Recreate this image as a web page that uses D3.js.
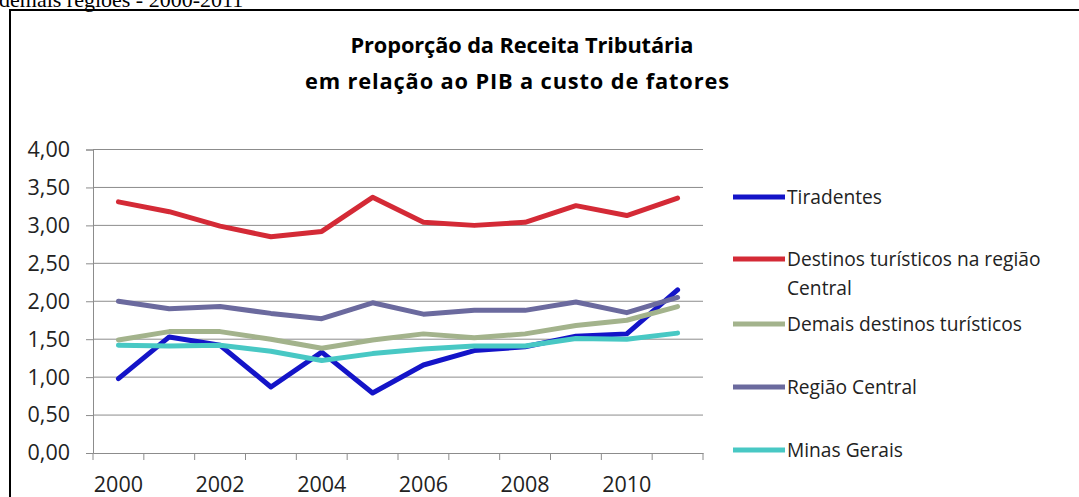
<!DOCTYPE html>
<html lang="pt">
<head>
<meta charset="UTF-8">
<title>Proporção da Receita Tributária</title>
<script src="https://d3js.org/d3.v7.min.js"></script>
<style type="text/css">
  body { margin: 0; background: #fff; }
  svg { display: block; }
</style>
</head>
<body>
<script>
// dados
var anos = [2000, 2001, 2002, 2003, 2004, 2005, 2006, 2007, 2008, 2009, 2010, 2011];
var rotulosAnos = [2000, 2002, 2004, 2006, 2008, 2010];
var ticksY = [0, 0.5, 1, 1.5, 2, 2.5, 3, 3.5, 4];

var tiradentes   = [0.98, 1.53, 1.42, 0.87, 1.33, 0.79, 1.16, 1.35, 1.40, 1.54, 1.57, 2.15];
var destCentral  = [3.31, 3.18, 2.99, 2.85, 2.92, 3.37, 3.04, 3.00, 3.04, 3.26, 3.13, 3.36];
var demais       = [1.49, 1.60, 1.60, 1.50, 1.38, 1.49, 1.57, 1.52, 1.57, 1.68, 1.75, 1.93];
var regCentral   = [2.00, 1.90, 1.93, 1.84, 1.77, 1.98, 1.83, 1.88, 1.88, 1.99, 1.85, 2.05];
var minas        = [1.42, 1.41, 1.42, 1.34, 1.22, 1.31, 1.37, 1.41, 1.41, 1.51, 1.50, 1.58];

var nomes = ["Tiradentes", "Destinos turísticos na região Central", "Demais destinos turísticos", "Região Central", "Minas Gerais"];
var cores = ["#1414c8", "#d42a36", "#a3b38c", "#6b6a9e", "#48c8c4"];

var series = [tiradentes, destCentral, demais, regCentral, minas];

var svg = d3.select("body").append("svg")
  .attr("width", 1079)
  .attr("height", 497);

// texto cortado no topo (legenda da figura)
svg.append("text")
  .attr("x", -1)
  .attr("y", 7)
  .style("font-family", "'Liberation Serif', 'DejaVu Serif', serif")
  .style("font-size", "22px")
  .style("fill", "#000")
  .text("demais regiões - 2000-2011");

// moldura
svg.append("rect")
  .attr("x", 10)
  .attr("y", 10)
  .attr("width", 1100)
  .attr("height", 520)
  .style("fill", "none")
  .style("stroke", "#000")
  .style("stroke-width", 2);

// titulo
var titulo = svg.append("text")
  .attr("text-anchor", "middle")
  .style("font-family", "'Open Sans', sans-serif")
  .style("font-weight", "bold")
  .style("font-size", "21.8px")
  .style("fill", "#000");
titulo.append("tspan").attr("x", 522).attr("y", 53)
  .attr("textLength", 343).attr("lengthAdjust", "spacing")
  .text("Proporção da Receita Tributária");
titulo.append("tspan").attr("x", 517).attr("y", 89)
  .attr("textLength", 424).attr("lengthAdjust", "spacing")
  .text("em relação ao PIB a custo de fatores");

var pLeft = 93, pRight = 703, pTop = 149.5, pBottom = 453;

var x = d3.scaleBand().domain(anos).range([pLeft, pRight]);
var y = d3.scaleLinear().domain([0, 4]).range([pBottom, pTop]);

// grade
svg.append("g").selectAll("line")
  .data(ticksY.filter(function(d) { return d > 0; }))
  .enter().append("line")
  .attr("x1", pLeft)
  .attr("x2", pRight)
  .attr("y1", function(d) { return y(d); })
  .attr("y2", function(d) { return y(d); })
  .style("stroke", "#8c8c8c")
  .style("stroke-width", 1);

var fmt = function(d) { return d3.format(".2f")(d).replace(".", ","); };

var eixoY = svg.append("g")
  .attr("transform", "translate(" + pLeft + ",0)")
  .call(d3.axisLeft(y).tickValues(ticksY).tickFormat(fmt).tickSize(7).tickPadding(16));
eixoY.select(".domain").style("stroke", "#8c8c8c");
eixoY.selectAll(".tick line").style("stroke", "#8c8c8c");
eixoY.selectAll("text")
  .style("font-family", "'Open Sans', sans-serif")
  .style("font-size", "21.5px")
  .style("fill", "#222");

// eixo x
var eixoX = svg.append("g")
  .attr("transform", "translate(0," + pBottom + ")")
  .call(d3.axisBottom(x).tickValues(rotulosAnos).tickSize(0).tickPadding(24));
eixoX.select(".domain").style("stroke", "#8c8c8c");
eixoX.selectAll("text")
  .style("font-family", "'Open Sans', sans-serif")
  .style("font-size", "21.5px")
  .style("fill", "#222");

// marcas entre categorias
var limites = anos.map(function(d) { return x(d); }).concat([x.range()[1]]);
svg.append("g").selectAll("line")
  .data(limites)
  .enter().append("line")
  .attr("x1", function(d) { return d; })
  .attr("x2", function(d) { return d; })
  .attr("y1", pBottom)
  .attr("y2", pBottom + 7)
  .style("stroke", "#8c8c8c");

// linhas
var linha = d3.line()
  .x(function(d, i) { return x(anos[i]) + x.bandwidth() / 2; })
  .y(function(d) { return y(d); });

svg.append("g").selectAll("path")
  .data(series)
  .enter().append("path")
  .attr("d", function(d) { return linha(d); })
  .style("fill", "none")
  .style("stroke", function(d, i) { return cores[i]; })
  .style("stroke-width", 5)
  .style("stroke-linejoin", "round")
  .style("stroke-linecap", "round");

// legenda
var legY = [197, 259, 324, 387, 450];
var leg = svg.append("g").selectAll("g")
  .data(nomes)
  .enter().append("g")
  .attr("transform", function(d, i) { return "translate(0," + legY[i] + ")"; });

leg.append("line")
  .attr("x1", 733)
  .attr("x2", 785)
  .style("stroke", function(d, i) { return cores[i]; })
  .style("stroke-width", 5);

leg.append("text")
  .attr("x", 787)
  .attr("y", 6.5)
  .style("font-family", "'Open Sans', sans-serif")
  .style("font-size", "19.2px")
  .style("fill", "#222")
  .each(function(d) {
    var t = d3.select(this);
    if (d === "Destinos turísticos na região Central") {
      t.append("tspan").attr("x", 787).text("Destinos turísticos na região");
      t.append("tspan").attr("x", 787).attr("dy", 29).text("Central");
    } else {
      t.text(d);
    }
  });
</script>
</body>
</html>
